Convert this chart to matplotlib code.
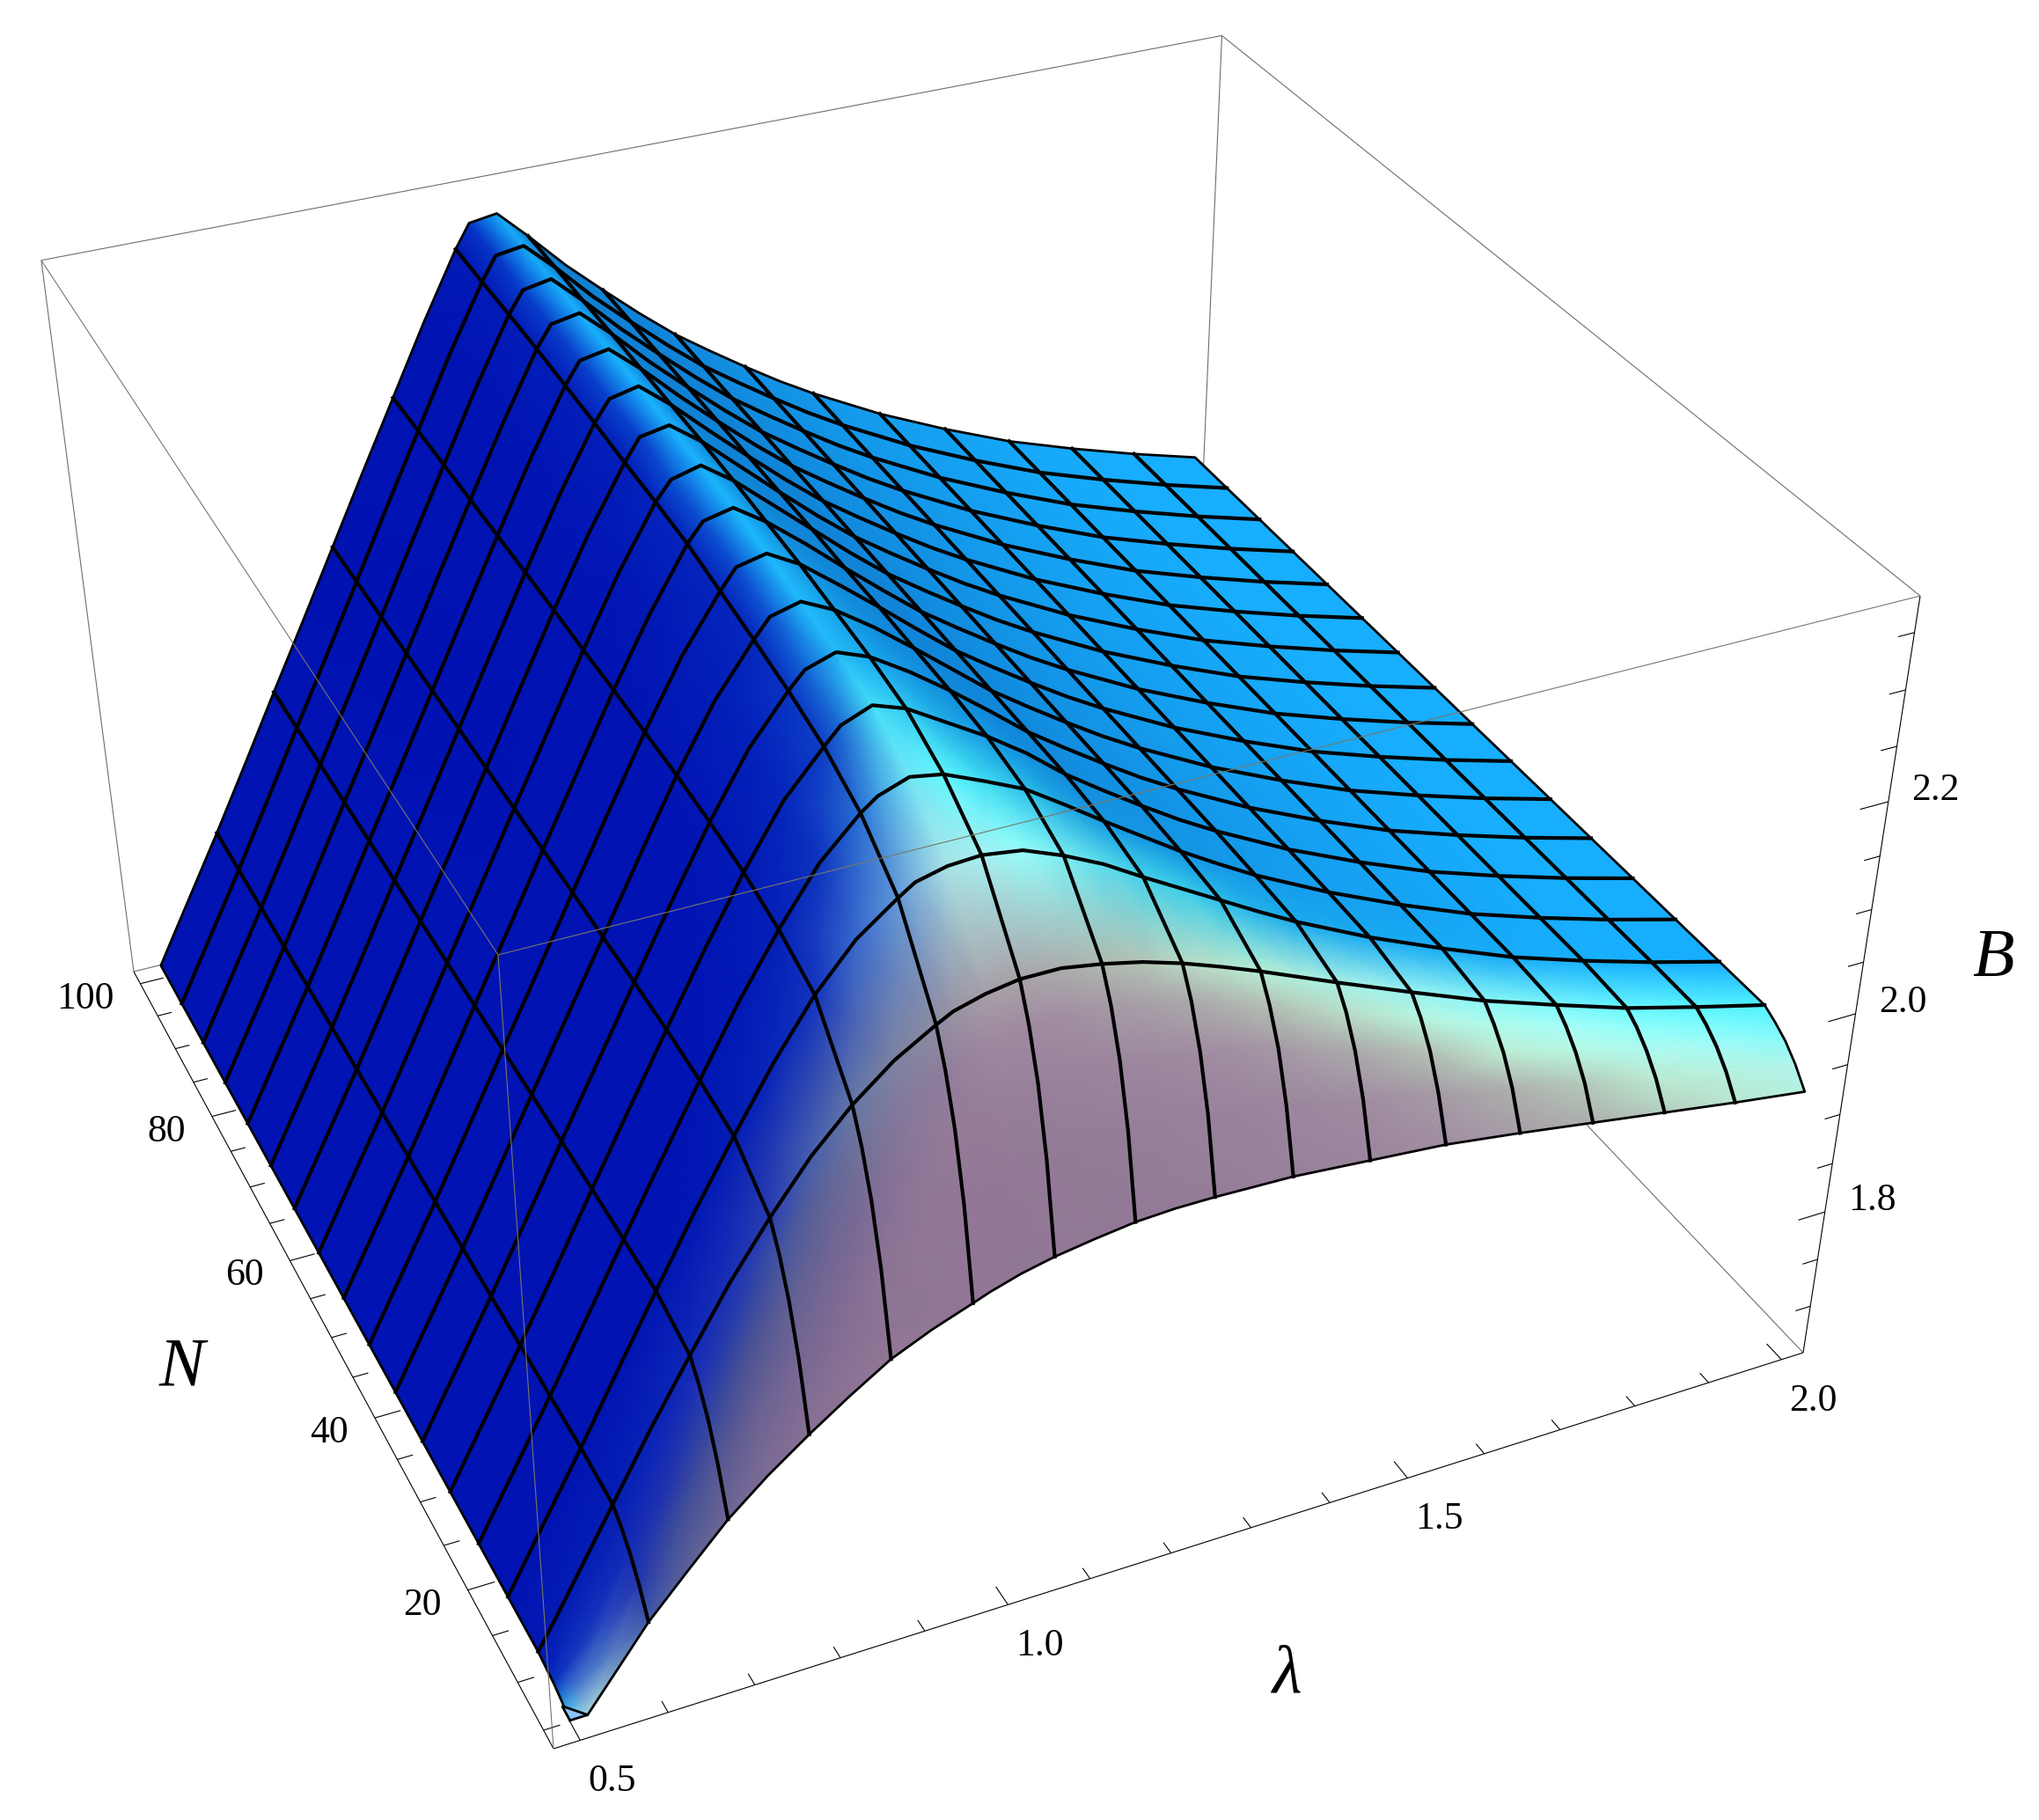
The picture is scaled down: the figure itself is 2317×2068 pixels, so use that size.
#!/usr/bin/python
import numpy as np
import matplotlib
matplotlib.use('Agg')
import matplotlib.pyplot as plt
from matplotlib.patches import Polygon

plt.rcParams['font.family'] = ['Liberation Serif', 'DejaVu Serif']

# columns of the table
lam = [0.5, 0.52, 0.59375, 0.640625, 0.6875, 0.734375,
       0.78125, 0.828125, 0.875, 0.921875, 0.96875, 0.988, 1.024, 1.0625, 1.109375, 1.15625,
       1.203125, 1.25, 1.296875, 1.34375, 1.390625, 1.4375, 1.53125, 1.625, 1.71875, 1.8125, 1.90625, 2.0]
# mesh lines drawn on the surface
lam_mesh = [0.59375, 0.6875, 0.78125, 0.875, 0.96875, 1.0625, 1.15625, 1.25, 1.34375, 1.4375,
            1.53125, 1.625, 1.71875, 1.8125, 1.90625]
N_rows = [5, 6.5, 8, 9.5, 10.94, 16.88, 22.81, 28.75, 34.69, 40.63, 46.56, 52.5,
          58.44, 64.38, 70.31, 76.25, 82.19, 88.13, 94.06, 100]
N_mesh = [10.94, 16.88, 22.81, 28.75, 34.69, 40.63, 46.56, 52.5, 58.44, 64.38, 70.31, 76.25,
          82.19, 88.13, 94.06]

B_005 = [1.651, 1.651, 1.727, 1.767, 1.806, 1.838, 1.866, 1.892, 1.916, 1.933, 1.947, 1.953, 1.962, 1.969, 1.975, 1.980, 1.982, 1.982, 1.981, 1.980, 1.977, 1.974, 1.968, 1.958, 1.947, 1.936, 1.925, 1.915]
B_006 = [1.656, 1.666, 1.751, 1.800, 1.847, 1.889, 1.926, 1.960, 1.989, 2.011, 2.028, 2.034, 2.043, 2.049, 2.053, 2.054, 2.052, 2.048, 2.042, 2.036, 2.029, 2.021, 2.006, 1.990, 1.974, 1.958, 1.944, 1.931]
B_008 = [1.660, 1.677, 1.769, 1.825, 1.878, 1.927, 1.970, 2.009, 2.042, 2.068, 2.087, 2.094, 2.103, 2.108, 2.110, 2.108, 2.103, 2.096, 2.087, 2.078, 2.067, 2.056, 2.035, 2.013, 1.993, 1.974, 1.958, 1.943]
B_009 = [1.662, 1.685, 1.782, 1.843, 1.900, 1.954, 2.002, 2.045, 2.080, 2.108, 2.129, 2.137, 2.145, 2.150, 2.151, 2.147, 2.140, 2.131, 2.119, 2.107, 2.094, 2.081, 2.055, 2.029, 2.007, 1.986, 1.968, 1.951]
B_011 = [1.664, 1.690, 1.791, 1.855, 1.915, 1.973, 2.024, 2.070, 2.107, 2.137, 2.159, 2.167, 2.175, 2.180, 2.180, 2.174, 2.166, 2.155, 2.142, 2.128, 2.113, 2.098, 2.069, 2.041, 2.017, 1.994, 1.975, 1.957]
B_017 = [1.664, 1.692, 1.794, 1.861, 1.927, 1.992, 2.053, 2.111, 2.162, 2.202, 2.229, 2.239, 2.246, 2.248, 2.243, 2.229, 2.212, 2.191, 2.171, 2.151, 2.131, 2.112, 2.078, 2.048, 2.020, 1.997, 1.976, 1.957]
B_023 = [1.664, 1.692, 1.794, 1.861, 1.928, 1.994, 2.059, 2.122, 2.178, 2.228, 2.263, 2.274, 2.284, 2.279, 2.264, 2.248, 2.225, 2.201, 2.178, 2.155, 2.134, 2.114, 2.079, 2.048, 2.020, 1.997, 1.976, 1.957]

left_part = [1.664, 1.692, 1.794, 1.861, 1.929, 1.996]
right_part = [2.232, 2.204, 2.180, 2.157, 2.135, 2.115, 2.079, 2.048, 2.020, 1.997, 1.976, 1.957]
ridge_029 = [2.062, 2.127, 2.188, 2.243, 2.282, 2.297, 2.308, 2.298, 2.277, 2.256]
ridge_035 = [2.063, 2.129, 2.193, 2.250, 2.293, 2.308, 2.317, 2.306, 2.284, 2.259]
ridge_041 = [2.063, 2.130, 2.196, 2.255, 2.301, 2.318, 2.325, 2.311, 2.287, 2.260]
ridge_047 = [2.064, 2.131, 2.197, 2.258, 2.308, 2.326, 2.332, 2.316, 2.289, 2.261]
ridge_053 = [2.064, 2.131, 2.198, 2.260, 2.315, 2.332, 2.338, 2.319, 2.291, 2.261]
ridge_058 = [2.064, 2.131, 2.198, 2.262, 2.318, 2.335, 2.342, 2.322, 2.292, 2.262]
ridge_064 = [2.064, 2.132, 2.199, 2.263, 2.320, 2.340, 2.345, 2.324, 2.293, 2.262]
ridge_070 = [2.064, 2.132, 2.199, 2.264, 2.323, 2.342, 2.348, 2.325, 2.293, 2.262]
ridge_076 = [2.064, 2.132, 2.199, 2.265, 2.325, 2.345, 2.350, 2.326, 2.293, 2.262]
ridge_082 = [2.064, 2.132, 2.199, 2.265, 2.327, 2.347, 2.352, 2.327, 2.293, 2.262]
ridge_088 = [2.064, 2.132, 2.199, 2.266, 2.328, 2.348, 2.353, 2.327, 2.293, 2.262]
ridge_094 = [2.064, 2.132, 2.199, 2.266, 2.328, 2.350, 2.354, 2.328, 2.293, 2.262]
ridge_100 = [2.064, 2.132, 2.199, 2.266, 2.329, 2.351, 2.355, 2.328, 2.293, 2.262]

# small light corner of the surface at the lowest lambda and N
tip_lam = [0.5, 0.5, 0.52]
tip_N = [5, 6.5, 5]
tip_B = [1.651, 1.651, 1.651]

lam_ticks = [0.5, 0.6, 0.7, 0.8, 0.9, 1.0, 1.1, 1.2, 1.3, 1.4, 1.5, 1.6, 1.7, 1.8, 1.9, 2.0]
lam_labels = {0.5: '0.5', 1.0: '1.0', 1.5: '1.5', 2.0: '2.0'}
N_ticks = [5, 10, 15, 20, 25, 30, 35, 40, 45, 50, 55, 60, 65, 70, 75, 80, 85, 90, 95, 100]
N_labels = {20: '20', 40: '40', 60: '60', 80: '80', 100: '100'}
B_ticks = [1.7, 1.75, 1.8, 1.85, 1.9, 1.95, 2.0, 2.05, 2.1, 2.15, 2.2, 2.25, 2.3, 2.35]
B_labels = {1.8: '1.8', 2.0: '2.0', 2.2: '2.2'}

lam_lim = (0.47, 2.03)
N_lim = (3.1, 101.9)
B_lim = (1.6495, 2.3815)

# camera of the box, unit cube -> picture pixels
CAM = np.array([[1647.0, -440.0, -136.8, 629.0],
                [-279.7, -614.3, -1043.5, 1987.0],
                [0.1108, 0.2434, -0.1304, 1.0]])


def to_unit(l, n, b):
    return ((np.asarray(l, float) - lam_lim[0]) / (lam_lim[1] - lam_lim[0]),
            (np.asarray(n, float) - N_lim[0]) / (N_lim[1] - N_lim[0]),
            (np.asarray(b, float) - B_lim[0]) / (B_lim[1] - B_lim[0]))


def cube(u, v, w):
    u, v, w = np.broadcast_arrays(u, v, w)
    d = CAM[2, 0] * u + CAM[2, 1] * v + CAM[2, 2] * w + CAM[2, 3]
    x = (CAM[0, 0] * u + CAM[0, 1] * v + CAM[0, 2] * w + CAM[0, 3]) / d
    y = (CAM[1, 0] * u + CAM[1, 1] * v + CAM[1, 2] * w + CAM[1, 3]) / d
    return x, y


def shade(lg, ng, table):
    u, v, w = to_unit(lg, ng, table)
    q, p = np.gradient(w, v[:, 0], u[0, :])
    nx, ny, nz = -0.4 * p, -0.4 * q, np.ones_like(p)
    nn = np.sqrt(nx ** 2 + ny ** 2 + nz ** 2)
    nx, ny = nx / nn, ny / nn
    ny_k = [-0.95, -0.8, -0.66, -0.55, -0.42, -0.3, -0.15, -0.06, 0.0]
    r = np.interp(ny, ny_k, [150, 165, 180, 190, 175, 130, 70, 30, 24])
    g = np.interp(ny, ny_k, [130, 150, 195, 245, 255, 255, 240, 190, 175])
    b = np.interp(ny, ny_k, [155, 165, 180, 215, 245, 255, 255, 255, 255])
    nx_k = [-0.8, -0.6, -0.37, -0.15, 0.18, 0.45, 0.6]
    r = r * np.interp(nx, nx_k, [0.02, 0.2, 0.62, 0.95, 1, 0.7, 0.6])
    g = g * np.interp(nx, nx_k, [0.09, 0.22, 0.62, 0.88, 1, 0.76, 0.7])
    b = b * np.interp(nx, nx_k, [0.69, 0.75, 0.88, 0.95, 1, 0.85, 0.8])
    return np.clip(np.dstack([r, g, b]) / 255.0, 0, 1)


def main():
    rows = [B_005, B_006, B_008, B_009, B_011, B_017, B_023]
    for ridge in (ridge_029, ridge_035, ridge_041, ridge_047, ridge_053, ridge_058, ridge_064,
                  ridge_070, ridge_076, ridge_082, ridge_088, ridge_094, ridge_100):
        rows.append(left_part + ridge + right_part)
    table = np.array(rows)
    lg, ng = np.meshgrid(lam, N_rows)
    X, Y = cube(*to_unit(lg, ng, table))

    fig = plt.figure(figsize=(23.17, 20.68), dpi=100)
    ax = fig.add_axes([0, 0, 1, 1])
    ax.set_xlim(0, 2317)
    ax.set_ylim(2068, 0)
    ax.axis('off')

    grey = '#6e6e6e'

    def edge(a, b, color=grey, zorder=1, lw=0.8):
        x, y = cube(*np.array([a, b]).T)
        ax.plot(x, y, color=color, lw=lw, zorder=zorder, solid_capstyle='butt')

    # box edges behind the surface
    edge((0, 1, 1), (1, 1, 1))
    edge((1, 1, 1), (1, 0, 1))
    edge((1, 1, 1), (1, 1, 0))
    edge((0, 1, 0), (1, 1, 0))
    edge((1, 0, 0), (1, 1, 0))
    edge((0, 1, 1), (0, 1, 0))

    # surface, coloured at its vertices
    ax.pcolormesh(X, Y, shade(lg, ng, table), shading='gouraud', zorder=2)

    # mesh
    mesh_lw = 3.0
    for n in N_mesh:
        j = N_rows.index(n)
        ax.plot(X[j, :], Y[j, :], color='k', lw=mesh_lw, zorder=3, solid_joinstyle='round')
    for l in lam_mesh:
        k = lam.index(l)
        ax.plot(X[:, k], Y[:, k], color='k', lw=mesh_lw, zorder=3, solid_joinstyle='round')
    bx = np.r_[X[0, 1:], X[:, -1], X[-1, ::-1], X[::-1, 0]]
    by = np.r_[Y[0, 1:], Y[:, -1], Y[-1, ::-1], Y[::-1, 0]]
    ax.plot(bx, by, color='k', lw=2.0, zorder=3, solid_joinstyle='round')

    tx, ty = cube(*to_unit(tip_lam, tip_N, tip_B))
    ax.add_patch(Polygon(np.c_[tx, ty], closed=True, facecolor='#8cc4fa', edgecolor='k',
                         lw=2.0, zorder=3))

    # box edges in front of the surface
    front = '#77776a'
    edge((0, 1, 1), (0, 0, 1), front, 4)
    edge((0, 0, 1), (1, 0, 1), front, 4)
    edge((0, 0, 1), (0, 0, 0), front, 4)

    # axes with ticks
    edge((0, 0, 0), (1, 0, 0), 'k', 1.5)
    edge((0, 0, 0), (0, 1, 0), 'k', 1.5)
    edge((1, 0, 0), (1, 0, 1), 'k', 1.5)

    size = 31.5
    for t in lam_ticks:
        u = to_unit(t, N_lim[0], B_lim[0])[0]
        major = t in lam_labels
        edge((u, 0, 0), (u, 0.02 if major else 0.012, 0), 'k', 1.5)
        if major:
            x, y = cube(u, 0, 0)
            ax.text(x + 36, y + 47, lam_labels[t], fontsize=size, ha='center', va='center')
    for t in N_ticks:
        v = to_unit(lam_lim[0], t, B_lim[0])[1]
        major = t in N_labels
        edge((0, v, 0), (0.02 if major else 0.012, v, 0), 'k', 1.5)
        if major:
            x, y = cube(0, v, 0)
            ax.text(x - 30, y + 17, N_labels[t], fontsize=size, ha='right', va='center')
    for t in B_ticks:
        w = to_unit(lam_lim[1], N_lim[0], t)[2]
        major = t in B_labels
        edge((1, 0, w), (1 - (0.023 if major else 0.013), 0, w), 'k', 1.5)
        if major:
            x, y = cube(1, 0, w)
            ax.text(x + 54, y - 13, B_labels[t], fontsize=size, ha='center', va='center')

    # axis labels
    ax.text(1463, 1905, '\u03bb', fontsize=56, style='italic', ha='center', va='center')
    ax.text(207, 1555, 'N', fontsize=56, style='italic', ha='center', va='center')
    ax.text(2265, 1090, 'B', fontsize=56, style='italic', ha='center', va='center')

    fig.savefig('out.png', dpi=100, facecolor='white')


if __name__ == "__main__":
    main()
